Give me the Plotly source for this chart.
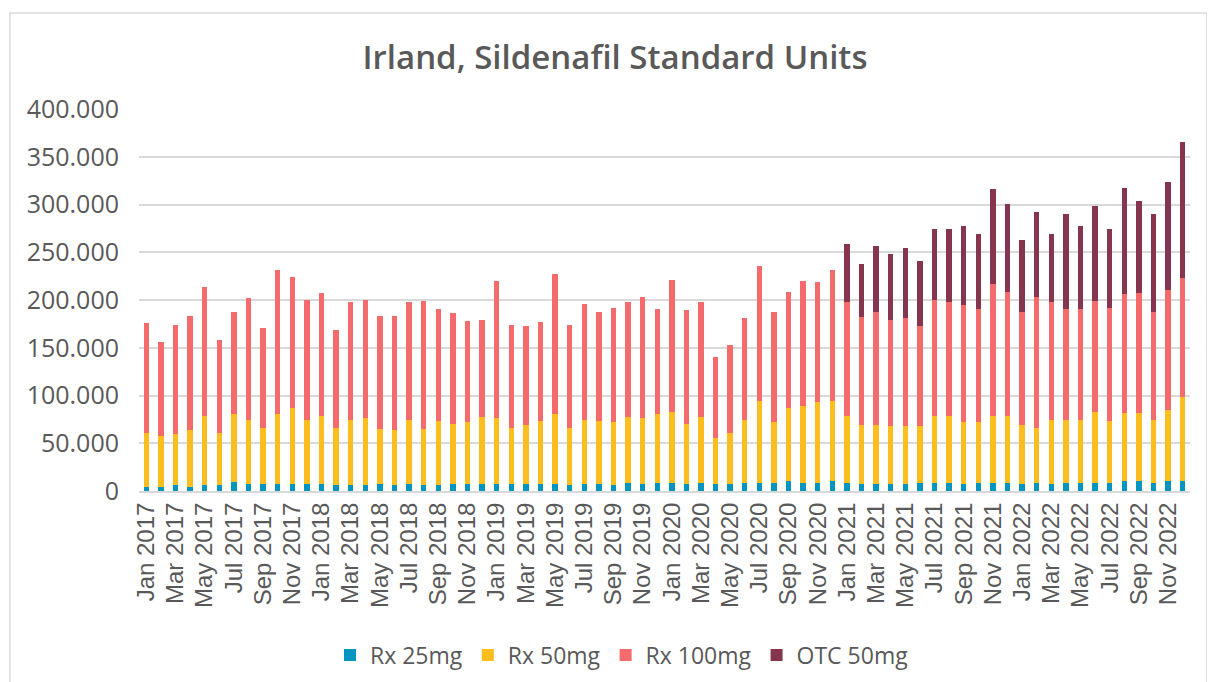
import plotly.graph_objects as go

months = ["Jan", "Feb", "Mar", "Apr", "May", "Jun", "Jul", "Aug", "Sep", "Oct", "Nov", "Dec"]
years = [2017, 2018, 2019, 2020, 2021, 2022]
categories = [f"{m} {y}" for y in years for m in months]

# values in thousands of standard units
rx25 = [
    4.5, 4.5, 5.9, 4.5, 5.9, 5.9, 9.8, 7.7, 7.7, 7.7, 7.7, 7.7,
    7.7, 5.9, 5.9, 5.9, 7.7, 5.9, 7.7, 5.9, 5.9, 7.7, 7.7, 7.7,
    7.7, 7.7, 7.7, 7.7, 7.7, 5.9, 7.7, 7.7, 5.9, 8.7, 7.7, 8.7,
    8.7, 7.7, 8.7, 7.7, 7.7, 8.7, 8.7, 8.7, 10.5, 8.7, 8.7, 10.5,
    8.7, 7.7, 7.7, 7.7, 7.7, 8.7, 8.7, 8.7, 7.7, 8.7, 8.7, 8.7,
    7.7, 8.7, 7.7, 8.7, 8.7, 8.7, 8.7, 10.5, 10.5, 8.7, 10.5, 10.5,
]
rx50 = [
    56.2, 53.5, 53.4, 59.4, 73.0, 54.8, 70.8, 67.0, 58.6, 72.9, 79.6, 67.0,
    71.2, 60.4, 68.8, 70.5, 57.6, 58.0, 67.0, 59.4, 67.7, 62.8, 64.6, 69.8,
    68.7, 58.6, 61.4, 65.6, 72.9, 60.4, 67.0, 65.6, 66.0, 68.8, 68.7, 71.9,
    74.4, 62.8, 68.8, 47.4, 53.0, 66.0, 85.5, 63.2, 76.8, 80.3, 84.1, 83.7,
    70.2, 61.4, 61.4, 60.0, 60.0, 59.0, 70.2, 70.2, 64.2, 63.2, 70.2, 70.2,
    61.4, 57.6, 67.0, 66.0, 66.0, 74.4, 64.6, 71.2, 71.2, 66.0, 74.3, 87.9,
]
rx100 = [
    115.3, 97.7, 114.5, 119.7, 135.1, 97.3, 107.2, 127.0, 104.4, 150.4, 136.4, 125.3,
    128.4, 101.9, 122.9, 123.6, 118.3, 119.7, 122.9, 133.7, 117.0, 115.9, 105.7, 101.5,
    143.5, 107.5, 103.3, 103.3, 146.3, 107.5, 121.5, 114.5, 120.1, 120.1, 126.7, 110.0,
    138.2, 118.7, 120.1, 85.2, 92.2, 106.1, 141.1, 115.9, 121.4, 130.9, 125.7, 136.8,
    118.7, 113.1, 118.7, 111.7, 113.1, 104.7, 121.4, 118.7, 122.9, 118.7, 137.9, 129.8,
    118.7, 136.8, 122.9, 115.9, 115.9, 115.9, 118.7, 124.6, 125.6, 113.1, 125.3, 124.6,
]
otc50 = [0] * 48 + [
    61.0, 55.5, 68.4, 68.4, 74.0, 68.4, 74.0, 76.7, 82.3, 78.2, 99.4, 92.2,
    75.4, 89.4, 71.2, 99.1, 86.5, 99.1, 82.3, 111.3, 96.4, 101.9, 113.1, 142.1,
]

series = [
    ("Rx 25mg", rx25, "#0095C0"),
    ("Rx 50mg", rx50, "#FBBE1E"),
    ("Rx 100mg", rx100, "#F56B6B"),
    ("OTC 50mg", otc50, "#86354F"),
]

tick_vals = categories[::2]

fig = go.Figure()
for name, vals, color in series:
    fig.add_trace(go.Bar(
        x=categories, y=[v * 1000 for v in vals], name=name,
        marker=dict(color=color, line=dict(width=0)),
    ))

gray = "#595959"
OFF = 8  # page body margin offset
L, R, T, B = 139 - OFF, 1190 - OFF, 109 - OFF, 491 - OFF
pw, ph = R - L, B - T
fig.update_layout(
    barmode="stack",
    bargap=0.63,
    width=1215, height=682,
    margin=dict(l=L, r=1215 - R, t=T, b=682 - B, autoexpand=False),
    paper_bgcolor="white", plot_bgcolor="white",
    separators=",.",
    title=dict(text="Irland, Sildenafil Standard Units", x=(615 - OFF) / 1215, xanchor="center",
               y=1 - (57 - OFF) / 682, yanchor="middle",
               font=dict(family="Open Sans", size=33, color=gray, weight=600)),
    xaxis=dict(type="category", tickmode="array", tickvals=tick_vals, ticktext=tick_vals,
               tickangle=-90, tickfont=dict(family="Liberation Sans", size=24, color=gray),
               showgrid=False, showline=True, linecolor="#d9d9d9", linewidth=2,
               ticks="", fixedrange=True, automargin=False),
    yaxis=dict(range=[0, 400000], dtick=50000, tickformat=",d",
               tickfont=dict(family="Open Sans", size=25, color=gray),
               gridcolor="#d9d9d9", gridwidth=1.5, zeroline=False,
               showline=False, ticks="", ticklabelstandoff=19, automargin=False),
    legend=dict(orientation="h", x=(622 - OFF - L) / pw, xanchor="center",
                y=(B - (655 - OFF)) / ph, yanchor="middle",
                font=dict(family="Open Sans", size=23, color=gray), traceorder="normal"),
    shapes=[dict(type="rect", xref="paper", yref="paper",
                 x0=(10 - OFF - L) / pw, x1=(1207 - OFF - L) / pw,
                 y0=-0.6, y1=(B - (13 - OFF)) / ph,
                 line=dict(color="#d9d9d9", width=1.5), fillcolor="rgba(0,0,0,0)", layer="below")],
)

fig.write_html("out.html")
